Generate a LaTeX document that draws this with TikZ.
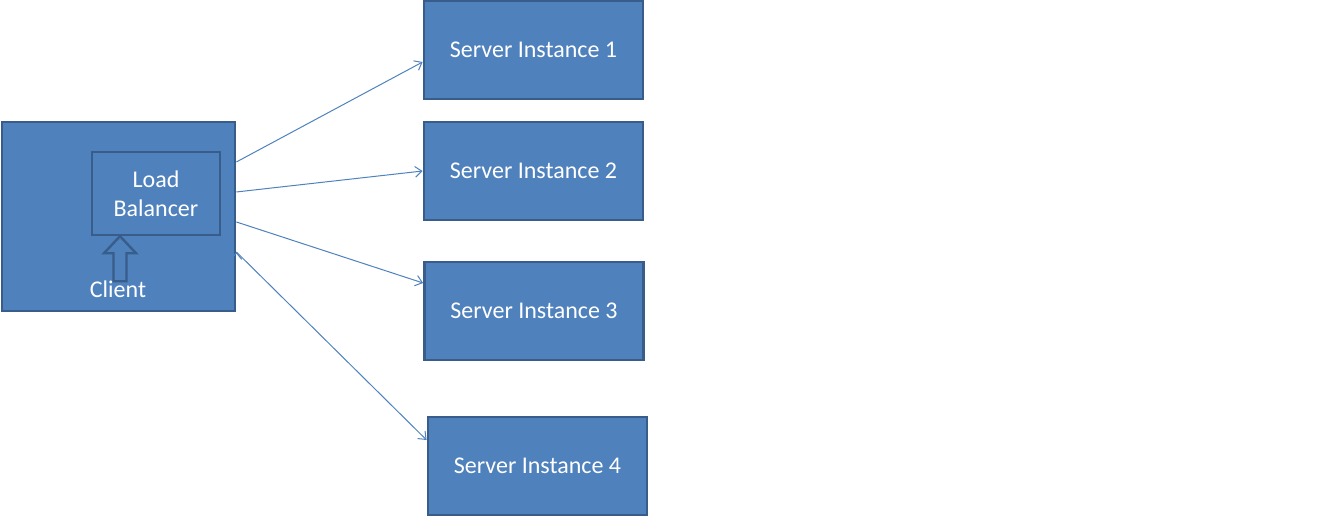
\documentclass[tikz,border=0pt]{standalone}
\usepackage{fontspec}
\setmainfont{Carlito}
\usetikzlibrary{positioning,arrows.meta}
\definecolor{boxfill}{HTML}{4F81BD}
\definecolor{boxline}{HTML}{385D8A}
\begin{document}
\begin{tikzpicture}[x=0.75pt,y=-0.75pt,>={Straight Barb[length=5pt,width=8pt]},thick,
  box/.style={rectangle,draw=boxline,line width=2.1pt,fill=boxfill,text=white,font=\fontsize{18}{22}\selectfont,inner sep=0pt},
  server node/.style={box,minimum width=164.25pt,minimum height=73.5pt},
  link/.style={->,draw=boxfill,line width=0.75pt}]
            \useasboundingbox (0,0) rectangle (1323,517);
            \node[box,minimum width=174.75pt,minimum height=141.75pt] (client) at (118.5,216.5) {};
            \node[box,line width=1.8pt,minimum width=96pt,minimum height=62.25pt,align=center] (lb) at (156,193.5) {Load\\Balancer};
            \node[server node] (s1) at (533.5,50) {Server Instance 1};
            \node[server node] (s2) at (533.5,171) {Server Instance 2};
            \node[server node] (s3) at (534,311) {Server Instance 3};
            \node[server node] (s4) at (537.5,466) {Server Instance 4};

            % block arrow from client up to the balancer
            \draw[draw=boxline,fill=boxfill,line width=1.8pt] (lb.south -| 120,0) -- ++(16,17) -- ++(-9.5,0) -- ++(0,28) -- ++(-13,0) -- ++(0,-28) -- ++(-9.5,0) -- cycle;
            \node[text=white,font=\fontsize{18}{22}\selectfont] (clabel) at (118,289) {Client};

            \path[link]
                    ([yshift=40.9pt]client.east) edge ([yshift=-9pt]s1.west)
                    ([yshift=18.4pt]client.east) edge (s2.west)
                    ([yshift=-4.1pt]client.east) edge ([yshift=21pt]s3.west)
                    ([yshift=-26.6pt]client.east) edge ([yshift=19.5pt]s4.west)
                ;
        \end{tikzpicture}
\end{document}
